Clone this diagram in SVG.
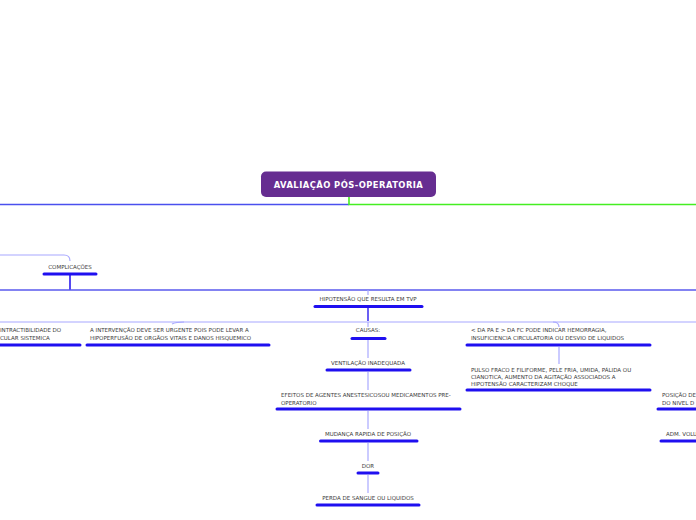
<svg xmlns="http://www.w3.org/2000/svg" width="696" height="520" viewBox="0 0 696 520">
<style>
.t{font-family:"DejaVu Sans","Liberation Sans",sans-serif;font-size:5.5px;fill:#3a3a3a}
.m{text-anchor:middle}
.u{stroke:#1f0ff0;stroke-width:3;stroke-linecap:round;fill:none}
.lp{stroke:#a8a8ff;stroke-width:1.2;fill:none}
.mb{stroke:#5a5aee;stroke-width:1.4;fill:none}
</style>
<rect width="696" height="520" fill="#ffffff"/>
<g id="connectors">
<path d="M0 204.5H349" stroke="#4a50ee" stroke-width="1.6" fill="none"/>
<path d="M349 197V204.5H696" stroke="#44ee22" stroke-width="1.6" fill="none"/>
<path class="lp" d="M0 255H64Q70 255 70 261"/>
<path d="M70 275V290" stroke="#2a1aee" stroke-width="1.6" fill="none"/>
<path class="mb" d="M0 290H696"/>
<path class="lp" d="M368 290V295"/>
<path d="M368 307V321" stroke="#2a1aee" stroke-width="1.4" fill="none"/>
<path class="lp" d="M0 322H696"/>
<path class="lp" d="M172 324Q176 322 184 322"/>
<path class="lp" d="M553 322Q559 322 559 327"/>
<path class="lp" d="M368 322V327"/>
<path class="lp" d="M368 340V358"/>
<path class="lp" d="M368 372V390"/>
<path class="lp" d="M368 411V429"/>
<path class="lp" d="M368 443V461"/>
<path class="lp" d="M368 475V493"/>
<path class="lp" d="M559 347V364"/>
</g>
<g id="central">
<rect x="261" y="171.5" width="175" height="25.5" rx="5" fill="#662d91"/>
<text x="348.5" y="187.5" text-anchor="middle" font-family="DejaVu Sans,Liberation Sans,sans-serif" font-size="8.4" font-weight="bold" letter-spacing="0.45" fill="#ffffff">AVALIAÇÃO PÓS-OPERATORIA</text>
</g>
<g id="complicacoes">
<text class="t m" x="70" y="269">COMPLICAÇÕES</text>
<path class="u" d="M44 274H96"/>
</g>
<g id="hipotensao">
<text class="t m" x="368" y="301">HIPOTENSÃO QUE RESULTA EM TVP</text>
<path class="u" d="M315 306.5H422"/>
</g>
<g id="contractibilidade">
<text class="t" x="0" y="332">INTRACTIBILIDADE DO</text>
<text class="t" x="0" y="339.5">CULAR SISTEMICA</text>
<path class="u" d="M0 345H80"/>
</g>
<g id="intervencao">
<text class="t" x="90" y="332">A INTERVENÇÃO DEVE SER URGENTE POIS PODE LEVAR A</text>
<text class="t" x="90" y="339.5">HIPOPERFUSÃO DE ORGÃOS VITAIS E DANOS HISQUEMICO</text>
<path class="u" d="M87 345H269"/>
</g>
<g id="causas">
<text class="t m" x="368" y="332">CAUSAS:</text>
<path class="u" d="M352 338.5H385"/>
</g>
<g id="ventilacao">
<text class="t m" x="368" y="365">VENTILAÇÃO INADEQUADA</text>
<path class="u" d="M327 370H410"/>
</g>
<g id="efeitos">
<text class="t" x="281" y="397">EFEITOS DE AGENTES ANESTESICOSOU MEDICAMENTOS PRE-</text>
<text class="t" x="281" y="404.5">OPERATORIO</text>
<path class="u" d="M277 409H460"/>
</g>
<g id="mudanca">
<text class="t m" x="368" y="436">MUDANÇA RAPIDA DE POSIÇÃO</text>
<path class="u" d="M320.5 441H417"/>
</g>
<g id="dor">
<text class="t m" x="368" y="468">DOR</text>
<path class="u" d="M358 473H378"/>
</g>
<g id="perda">
<text class="t m" x="368" y="500">PERDA DE SANGUE OU LIQUIDOS</text>
<path class="u" d="M317 505H419"/>
</g>
<g id="pa-fc">
<text class="t" x="471" y="332">&lt; DA PA E &gt; DA FC PODE INDICAR HEMORRAGIA,</text>
<text class="t" x="471" y="339.5">INSUFICIENCIA CIRCULATORIA OU DESVIO DE LIQUIDOS</text>
<path class="u" d="M467 345H650"/>
</g>
<g id="pulso">
<text class="t" x="471" y="371.5">PULSO FRACO E FILIFORME, PELE FRIA, UMIDA, PÁLIDA OU</text>
<text class="t" x="471" y="378.5">CIANOTICA, AUMENTO DA AGITAÇÃO ASSOCIADOS A</text>
<text class="t" x="471" y="385.5">HIPOTENSÃO CARACTERIZAM CHOQUE</text>
<path class="u" d="M467 390H650"/>
</g>
<g id="posicao">
<text class="t" x="662" y="397">POSIÇÃO DE</text>
<text class="t" x="662" y="404.5">DO NIVEL D</text>
<path class="u" d="M658 409H696"/>
</g>
<g id="adm">
<text class="t" x="666" y="436">ADM. VOLU</text>
<path class="u" d="M661 441H696"/>
</g>
</svg>
